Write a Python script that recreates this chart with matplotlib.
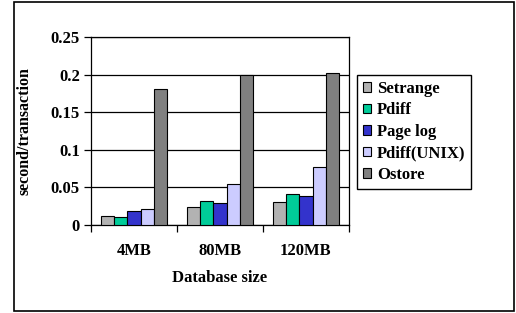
import numpy as np
import matplotlib.pyplot as plt
from matplotlib.patches import Rectangle

categories = ['4MB', '80MB', '120MB']
series_names = ['Setrange', 'Pdiff', 'Page log', 'Pdiff(UNIX)', 'Ostore']
setrange = [0.0115, 0.0235, 0.031]
pdiff = [0.011, 0.032, 0.041]
page_log = [0.0185, 0.029, 0.0385]
pdiff_unix = [0.0208, 0.054, 0.077]
ostore = [0.181, 0.1995, 0.202]
colors = ['#B2B2B2', '#00CC99', '#3333CC', '#CCCCFF', '#808080']

plt.rcParams['font.family'] = ['Liberation Serif', 'DejaVu Serif']
plt.rcParams['font.weight'] = 'bold'

fig = plt.figure(figsize=(5.16, 3.13), dpi=100)
ax = fig.add_axes([0.1764, 0.281, 0.4996, 0.601])

x = np.arange(len(categories))
w = 0.155
data = [setrange, pdiff, page_log, pdiff_unix, ostore]
for j, (vals, name, c) in enumerate(zip(data, series_names, colors)):
    ax.bar(x + (j - 2) * w, vals, w, color=c, edgecolor='black', linewidth=0.8,
           label=name, zorder=3)

ax.set_xlim(-0.5, 2.5)
ax.set_ylim(0, 0.25)
ax.set_yticks([0, 0.05, 0.1, 0.15, 0.2, 0.25])
ax.set_yticklabels(['0', '0.05', '0.1', '0.15', '0.2', '0.25'], fontsize=12, fontweight='bold')
ax.yaxis.grid(True, color='black', linewidth=0.9, zorder=0)
ax.set_xticks([-0.5, 0.5, 1.5, 2.5])
ax.set_xticklabels([])
ax.set_xticks(x, minor=True)
ax.set_xticklabels(categories, minor=True, fontsize=12, fontweight='bold')
ax.tick_params(axis='x', which='minor', length=0, pad=13)
ax.tick_params(axis='x', which='major', direction='out', length=5, width=0.9)
ax.tick_params(axis='y', direction='out', length=5, width=0.9, pad=3)
for s in ax.spines.values():
    s.set_linewidth(0.9)

ax.set_xlabel('Database size', fontsize=12, fontweight='bold', labelpad=8)
ax.set_ylabel('second/transaction', fontsize=11.5, fontweight='bold', labelpad=13)

fig.legend(loc='upper left', bbox_to_anchor=(0.692, 0.760), fontsize=12,
           frameon=True, fancybox=False, edgecolor='black', framealpha=1,
           handlelength=0.5, handleheight=0.5, handletextpad=0.35,
           labelspacing=0.33, borderpad=0.35, borderaxespad=0)

fig.add_artist(Rectangle((0.027, 0.006), 0.969, 0.989, transform=fig.transFigure,
                         fill=False, edgecolor='black', linewidth=1.2))

plt.savefig('out.png', dpi=100)
